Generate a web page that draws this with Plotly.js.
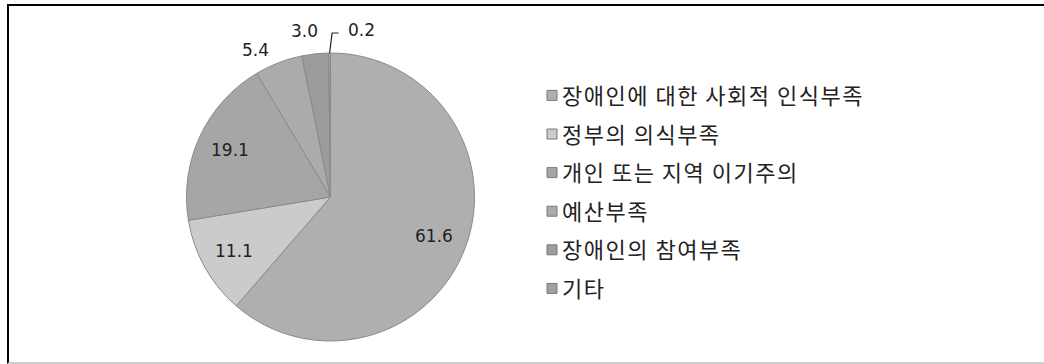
<!DOCTYPE html>
<html>
<head>
<meta charset="utf-8">
<script src="https://cdn.plot.ly/plotly-3.0.1.min.js"></script>
<style>
  html, body { margin: 0; padding: 0; background: #fff; }
  #frame { position: absolute; left: 7px; top: 4px; width: 1037px; height: 360px;
           border-left: 2px solid #000; border-top: 2px solid #000; border-bottom: 2px solid #cfcfcf; box-sizing: border-box; pointer-events: none; }
  #chart { position: absolute; left: 0; top: 0; width: 1044px; height: 364px; }
  .legendtext { letter-spacing: 1.5px; }
</style>
</head>
<body>
<div id="chart"></div>
<div id="frame"></div>
<script>
const categories = ['장애인에 대한 사회적 인식부족', '정부의 의식부족', '개인 또는 지역 이기주의', '예산부족', '장애인의 참여부족', '기타'];
const values = [61.6, 11.1, 19.1, 5.4, 3.0, 0.2];
const valueLabels = ['61.6', '11.1', '19.1', '5.4', '3.0', '0.2'];
const sliceColors = ['#afafaf', '#cbcbcb', '#a6a6a6', '#ababab', '#9c9c9c', '#a0a0a0'];
const labelPlacement = ['inside', 'inside', 'inside', 'outside', 'outside', 'outside'];

const W = 1044, H = 364;
const font = '"Noto Sans CJK KR", "Noto Sans", sans-serif';
const numFont = '"DejaVu Sans", sans-serif';

// pie placement (pixels)
const cx = 330.5, cy = 197, R = 144;
const dom = { x: [(cx - R) / W, (cx + R) / W], y: [1 - (cy + R) / H, 1 - (cy - R) / H] };

const pie = {
  type: 'pie',
  labels: categories,
  values: values,
  textinfo: 'none',
  sort: false,
  direction: 'clockwise',
  rotation: 0,
  marker: { colors: sliceColors, line: { color: '#8a8a8a', width: 1 } },
  showlegend: false,
  hoverinfo: 'none',
  domain: dom
};

const legendTraces = categories.map((c, i) => ({
  type: 'scatter',
  x: [null], y: [null],
  mode: 'markers',
  name: c,
  legendgroup: 'g' + i,
  marker: { symbol: 'square', size: 10, color: sliceColors[i], line: { color: '#7a7a7a', width: 1 } },
  showlegend: true,
  hoverinfo: 'none'
}));

// data labels at each slice's mid angle (computed from the values)
const total = values.reduce((a, b) => a + b, 0);
const outsideShift = { 3: [-23, -13], 4: [-11, -23], 5: [32, -23] };
const annotations = [];
const shapes = [];
let cum = 0;
values.forEach((v, i) => {
  const a = 2 * Math.PI * (cum + v / 2) / total;
  cum += v;
  const inside = labelPlacement[i] === 'inside';
  const rr = inside ? 0.77 * R : R;
  const px = cx + rr * Math.sin(a), py = cy - rr * Math.cos(a);
  const sh = inside ? [0, 0] : outsideShift[i];
  annotations.push({
    xref: 'paper', yref: 'paper',
    x: (px + sh[0]) / W, y: 1 - (py + sh[1]) / H,
    text: valueLabels[i], showarrow: false,
    xanchor: 'center', yanchor: 'middle',
    font: { family: numFont, size: 17, color: '#222' }
  });
  if (i === 5) {
    const x0 = px, y0 = py, x1 = px + 2.5, y1 = py - 20, x2 = px + 9;
    shapes.push({
      type: 'path', xref: 'paper', yref: 'paper',
      path: `M ${x0 / W} ${1 - y0 / H} L ${x1 / W} ${1 - y1 / H} L ${x2 / W} ${1 - y1 / H}`,
      line: { color: '#222', width: 1.2 }
    });
  }
});

const layout = {
  width: W, height: H,
  margin: { l: 0, r: 0, t: 0, b: 0 },
  paper_bgcolor: '#fff', plot_bgcolor: 'rgba(0,0,0,0)',
  xaxis: { visible: false }, yaxis: { visible: false },
  showlegend: true,
  annotations: annotations,
  shapes: shapes,
  legend: {
    x: 0.5, y: 0.795, xanchor: 'left', yanchor: 'top',
    font: { family: font, size: 22, color: '#222' },
    tracegroupgap: 7,
    itemwidth: 30,
    bgcolor: 'rgba(0,0,0,0)'
  }
};

Plotly.newPlot('chart', [pie].concat(legendTraces), layout, { displayModeBar: false, staticPlot: true }).then(() => {
  document.querySelectorAll('#chart .legendsymbols').forEach(g => g.setAttribute('transform', 'translate(10,0)'));
});
</script>
</body>
</html>
